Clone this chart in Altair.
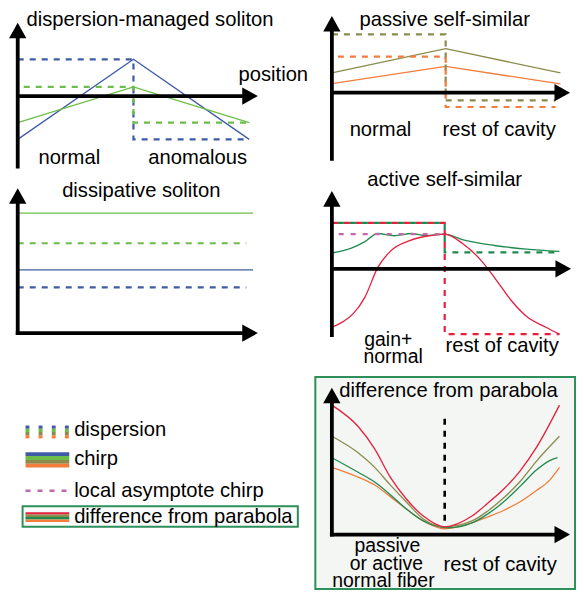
import altair as alt
import pandas as pd

# ---------------- colours ----------------
BLUE = "#3f5aa6"
LGREEN = "#6cbd48"
OLIVE = "#8a8b4c"
ORANGE = "#f47c3c"
RED = "#e51f3d"
DGREEN = "#1f8a4f"
MAGENTA = "#c468ad"
BOXGREEN = "#2f8f5b"

# ---------------- data (schematic values, reference units 584 x 600) ----------------
# dispersion-managed soliton
p1_x = [10, 129, 248]
p1_blue_chirp = [135, 52.7, 135]
p1_green_chirp = [117.7, 81, 117.7]
p1_disp_x = [10, 129, 129, 248]
p1_blue_disp = [52.7, 52.7, 135, 135]
p1_green_disp = [81, 81, 117.7, 117.7]

# passive self-similar
p2_x = [333, 450, 568]
p2_olive_chirp = [66.7, 41.7, 66.7]
p2_orange_chirp = [77.7, 60, 78]
p2_disp_x = [333, 450, 450, 563]
p2_olive_disp = [27, 27, 95, 95]
p2_orange_disp = [50, 50, 101.7, 101.7]

# dissipative soliton
p3_chirp_x = [10, 252]
p3_disp_x = [10, 245]
p3_green_chirp = 210.7
p3_green_disp = 241.7
p3_blue_chirp = 269
p3_blue_disp = 287

# active self-similar
p4_disp_x = [333, 449, 449, 567]
p4_red_disp = [220.7, 220.7, 335, 335]
p4_green_disp = [220.7, 220.7, 251, 251]
p4_asym_x = [340, 449]
p4_asym_y = [232.3, 232.3]
p4_green_x = [333, 353, 367, 380, 397, 415, 430, 449, 467, 500, 533, 567]
p4_green_y = [251.7, 246.7, 240, 231.7, 234, 231.7, 234, 232.3, 238, 244, 247.7, 250]
p4_red_x = [333, 345, 355, 367, 380, 393, 413, 433, 449, 467, 487, 500, 517, 533, 553, 567]
p4_red_y = [328, 322, 314, 297, 267, 250, 239, 234, 232.3, 241.7, 260, 276.7, 300, 316.7, 328, 335]

# difference from parabola
p5_red_x = [333, 360, 377, 393, 410, 427, 449, 477, 493, 510, 527, 543, 567]
p5_red_y = [408, 430, 453, 482, 505, 522, 533, 522, 509, 494, 475, 452, 408]
p5_olive_x = [333, 360, 377, 393, 410, 427, 449, 477, 493, 510, 527, 543, 567]
p5_olive_y = [440, 457, 472, 490, 508, 525, 533, 527, 517, 503, 486, 466, 440]
p5_green_x = [333, 360, 377, 393, 410, 427, 453, 477, 493, 510, 527, 543, 557, 565]
p5_green_y = [462, 477, 487, 500, 515, 527, 534, 529, 520, 507, 491, 475, 465, 462]
p5_orange_x = [333, 360, 377, 393, 410, 427, 449, 477, 493, 510, 527, 543, 557, 567]
p5_orange_y = [472, 482, 490, 502, 515, 527, 535, 529, 523, 516, 507, 496, 485, 472]
p5_mid_x = [449, 449]
p5_mid_y = [422, 532]

# axes: (x, y, x2, y2) for shafts; arrow tips
axis_x1 = [10, 10, 333, 333, 10, 8, 333, 333, 333, 331]
axis_y1 = [165, 90.5, 157, 87, 336, 334, 338, 268, 543, 541]
axis_x2 = [10, 248, 333, 570, 10, 249, 333, 571, 333, 570]
axis_y2 = [28, 90.5, 22, 87, 198, 334, 202, 268, 404, 541]
up_tip_x = [10, 333, 10, 333, 333]
up_tip_y = [15, 8, 185, 188, 390]
right_tip_x = [257, 578, 257, 579, 578]
right_tip_y = [90.5, 87, 334, 268, 541]

# texts
center_texts = ["dispersion-managed soliton", "normal", "anomalous",
                "passive self-similar", "normal", "rest of cavity",
                "dissipative soliton",
                "active self-similar", "rest of cavity",
                "difference from parabola", "rest of cavity"]
center_tx = [146, 63, 195, 449, 383, 505, 137, 449, 508, 453, 506]
center_ty = [18, 160, 160, 18, 132, 132, 194, 183, 353, 400, 578]
stack_texts = ["gain+", "normal", "passive", "or active", "normal fiber"]
stack_tx = [391, 396, 390, 389, 386]
stack_ty = [347, 365, 559, 577, 595]
left_texts = ["position", "dispersion", "chirp", "local asymptote chirp", "difference from parabola"]
left_tx = [237, 68, 68, 68, 68]
left_ty = [75, 440, 470, 502, 529]

# legend swatches
disp_icon_x = [20, 33.5, 47, 60.5]
disp_icon_colors = [BLUE, LGREEN, OLIVE, ORANGE]
chirp_icon_colors = [BLUE, LGREEN, OLIVE, ORANGE]
diff_icon_colors = [RED, OLIVE, DGREEN, ORANGE]

# ---------------- tables ----------------
def lines(specs):
    rows = []
    for gid, (xs, ys, c) in enumerate(specs):
        for i, (x, y) in enumerate(zip(xs, ys)):
            rows.append({"id": gid, "o": i, "x": x, "y": y, "c": c})
    return pd.DataFrame(rows)

solid_lin = lines([
    (p1_x, p1_blue_chirp, BLUE), (p1_x, p1_green_chirp, LGREEN),
    (p2_x, p2_olive_chirp, OLIVE), (p2_x, p2_orange_chirp, ORANGE),
    (p3_chirp_x, [p3_green_chirp] * 2, LGREEN), (p3_chirp_x, [p3_blue_chirp] * 2, BLUE),
])
solid_smooth = lines([
    (p4_green_x, p4_green_y, DGREEN), (p4_red_x, p4_red_y, RED),
    (p5_orange_x, p5_orange_y, ORANGE), (p5_green_x, p5_green_y, DGREEN),
    (p5_olive_x, p5_olive_y, OLIVE), (p5_red_x, p5_red_y, RED),
])
dash_a = lines([
    (p1_disp_x, p1_blue_disp, BLUE), (p2_disp_x, p2_olive_disp, OLIVE),
    (p3_disp_x, [p3_green_disp] * 2, LGREEN), (p3_disp_x, [p3_blue_disp] * 2, BLUE),
    (p4_disp_x, p4_red_disp, RED),
])
dash_b = lines([
    (p1_disp_x, p1_green_disp, LGREEN), (p2_disp_x, p2_orange_disp, ORANGE),
    (p4_disp_x, p4_green_disp, DGREEN),
])
asym = lines([(p4_asym_x, p4_asym_y, MAGENTA), ([18, 63], [496, 496], MAGENTA)])
mid = lines([(p5_mid_x, p5_mid_y, "black")])

axes_df = pd.DataFrame({"x": axis_x1, "y": axis_y1, "x2": axis_x2, "y2": axis_y2})
up_df = pd.DataFrame({"x": up_tip_x, "y": [v + 9 for v in up_tip_y]})
right_df = pd.DataFrame({"x": [v - 9 for v in right_tip_x], "y": right_tip_y})
ctext_df = pd.DataFrame({"x": center_tx, "y": center_ty, "t": center_texts})
stext_df = pd.DataFrame({"x": stack_tx, "y": stack_ty, "t": stack_texts})
ltext_df = pd.DataFrame({"x": left_tx, "y": left_ty, "t": left_texts})

boxes_df = pd.DataFrame({
    "x": [316, 15], "x2": [583, 298], "y": [379, 512], "y2": [597, 533],
    "f": ["#f3f6f3", "#fbfcfb"],
})

icon_rows = []
for cx in disp_icon_x:
    for k, c in enumerate(disp_icon_colors):
        icon_rows.append({"x": cx - 2, "x2": cx + 2, "y": 429 + k * 3.3, "y2": 429 + (k + 1) * 3.3, "c": c})
for k, c in enumerate(chirp_icon_colors):
    icon_rows.append({"x": 18, "x2": 63, "y": 456.5 + k * 3.9, "y2": 456.5 + (k + 1) * 3.9, "c": c})
for k, c in enumerate(diff_icon_colors):
    icon_rows.append({"x": 18, "x2": 63, "y": 518 + k * 2.5, "y2": 518 + (k + 1) * 2.5, "c": c})
icons_df = pd.DataFrame(icon_rows)

# ---------------- encodings ----------------
XS = alt.Scale(domain=[0, 584], nice=False, zero=False)
YS = alt.Scale(domain=[0, 600], nice=False, zero=False, reverse=True)
X = alt.X("x:Q", scale=XS, axis=None)
Y = alt.Y("y:Q", scale=YS, axis=None)
C = alt.Color("c:N", scale=None)
FONT = "Liberation Sans"
FS = 20.2


def line_layer(df, **kw):
    return alt.Chart(df).mark_line(**kw).encode(x=X, y=Y, color=C, detail="id:N", order="o:Q")


boxes = alt.Chart(boxes_df).mark_rect(stroke=BOXGREEN, strokeWidth=2).encode(
    x=X, x2="x2:Q", y=Y, y2="y2:Q", fill=alt.Fill("f:N", scale=None))

l_solid = line_layer(solid_lin, strokeWidth=1.3)
l_smooth = line_layer(solid_smooth, strokeWidth=1.3, interpolate="monotone")
l_dash_a = line_layer(dash_a, strokeWidth=2.2, strokeDash=[6, 6])
l_dash_b = line_layer(dash_b, strokeWidth=2.2, strokeDash=[6, 6], strokeDashOffset=6)
l_asym = line_layer(asym, strokeWidth=2.4, strokeDash=[5, 7])
l_mid = line_layer(mid, strokeWidth=2.6, strokeDash=[6, 6])

axes = alt.Chart(axes_df).mark_rule(color="black", strokeWidth=3.8).encode(
    x=X, y=Y, x2="x2:Q", y2="y2:Q")
ups = alt.Chart(up_df).mark_point(shape="M0,-1L1,0.8L-1,0.8Z", filled=True, size=300,
                                  color="black", opacity=1).encode(x=X, y=Y)
rights = alt.Chart(right_df).mark_point(shape="M1,0L-0.8,-1L-0.8,1Z", filled=True, size=300,
                                        color="black", opacity=1).encode(x=X, y=Y)

ctext = alt.Chart(ctext_df).mark_text(font=FONT, fontSize=FS, align="center",
                                      baseline="alphabetic", color="black").encode(x=X, y=Y, text="t:N")
stext = alt.Chart(stext_df).mark_text(font=FONT, fontSize=19.4, align="center",
                                      baseline="alphabetic", color="black", lineHeight=17).encode(x=X, y=Y, text="t:N")
ltext = alt.Chart(ltext_df).mark_text(font=FONT, fontSize=FS, align="left",
                                      baseline="alphabetic", color="black").encode(x=X, y=Y, text="t:N")
icons = alt.Chart(icons_df).mark_rect().encode(x=X, x2="x2:Q", y=Y, y2="y2:Q", color=C)

chart = alt.layer(
    boxes, l_solid, l_smooth, l_dash_a, l_dash_b, l_asym, l_mid,
    axes, ups, rights, ctext, stext, ltext, icons,
).properties(width=568, height=584, padding=0, autosize="none").configure_view(stroke=None)

chart.save("out.html", embed_options={"renderer": "svg", "actions": False})
